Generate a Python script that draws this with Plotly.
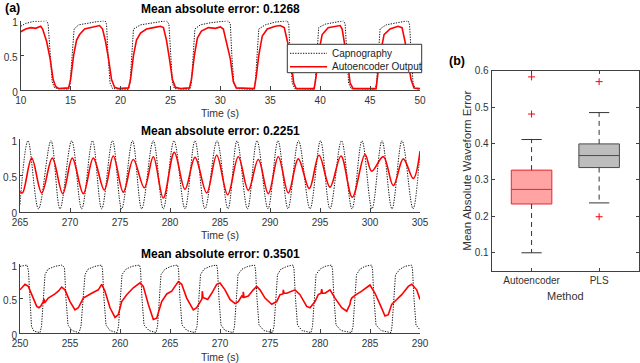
import plotly.graph_objects as go

# ---- (a) waveform panels: (time s, normalised value) ----
top_capno = [
    (10, 0.92), (10.5, 0.96), (11.3, 0.99), (12.6, 1.0), (12.75, 0.95), (12.95, 0.5), (13.15, 0.12), (13.4, 0.03),
    (14.8, 0.01), (14.95, 0.1), (15.15, 0.5), (15.35, 0.88), (15.8, 0.94), (16.8, 0.97), (17.8, 0.99), (18.45, 1.0),
    (18.6, 0.95), (18.75, 0.5), (18.95, 0.1), (19.2, 0.02), (20.8, 0.01), (20.95, 0.1), (21.1, 0.5), (21.3, 0.88),
    (22.0, 0.94), (23.3, 0.97), (24.6, 1.0), (24.85, 0.95), (25.0, 0.5), (25.2, 0.1), (25.4, 0.02), (26.95, 0.01),
    (27.1, 0.1), (27.25, 0.5), (27.45, 0.88), (28.0, 0.94), (29.0, 0.97), (30.8, 1.0), (31.0, 0.95), (31.15, 0.5),
    (31.35, 0.1), (31.6, 0.02), (33.35, 0.01), (33.5, 0.1), (33.65, 0.5), (33.85, 0.88), (34.5, 0.94), (35.5, 0.98),
    (36.7, 1.0), (36.85, 0.95), (37.0, 0.5), (37.2, 0.1), (37.45, 0.02), (39.35, 0.01), (39.5, 0.1), (39.65, 0.5),
    (39.85, 0.9), (40.5, 0.95), (41.5, 0.98), (42.35, 1.0), (42.5, 0.95), (42.65, 0.5), (42.85, 0.1), (43.1, 0.02),
    (45.5, 0.01), (45.65, 0.1), (45.8, 0.5), (46.0, 0.88), (46.6, 0.94), (47.6, 0.97), (48.8, 1.0), (48.95, 0.95),
    (49.1, 0.5), (49.3, 0.1), (49.55, 0.02), (50, 0.01),
]
top_auto = [
    (10, 0.84), (10.5, 0.88), (11, 0.9), (11.5, 0.89), (12, 0.92), (12.2, 0.88), (12.6, 0.7), (12.95, 0.45),
    (13.25, 0.15), (13.5, 0.05), (13.8, 0.02), (14.8, 0.03), (15.0, 0.15), (15.3, 0.5), (15.6, 0.72), (15.9, 0.8),
    (16.4, 0.88), (17, 0.9), (17.5, 0.92), (17.9, 0.93), (18.2, 0.88), (18.5, 0.7), (18.8, 0.45), (19.1, 0.15),
    (19.4, 0.04), (19.8, 0.02), (20.8, 0.03), (21.0, 0.15), (21.3, 0.5), (21.6, 0.72), (22, 0.82), (22.6, 0.88),
    (23.3, 0.9), (24, 0.92), (24.3, 0.9), (24.6, 0.72), (24.9, 0.45), (25.2, 0.15), (25.5, 0.04), (26, 0.02),
    (26.9, 0.03), (27.1, 0.15), (27.4, 0.5), (27.7, 0.75), (28.1, 0.85), (28.8, 0.9), (29.5, 0.89), (30, 0.91),
    (30.3, 0.88), (30.6, 0.7), (31.0, 0.45), (31.3, 0.12), (31.6, 0.03), (33.4, 0.02), (33.6, 0.2), (33.85, 0.5),
    (34.2, 0.78), (34.7, 0.88), (35.5, 0.92), (36, 0.93), (36.4, 0.9), (36.8, 0.65), (37.1, 0.4), (37.35, 0.1),
    (37.6, 0.02), (39.4, 0.02), (39.6, 0.2), (39.8, 0.5), (40.2, 0.8), (40.8, 0.9), (41.5, 0.92), (42, 0.93),
    (42.2, 0.88), (42.5, 0.65), (42.75, 0.4), (43, 0.1), (43.3, 0.02), (45.6, 0.02), (45.75, 0.2), (46, 0.5),
    (46.4, 0.8), (47, 0.88), (47.8, 0.92), (48.2, 0.9), (48.5, 0.7), (48.8, 0.45), (49.1, 0.15), (49.4, 0.03),
    (50, 0.02),
]

# middle panel: peaks / troughs (drawn with spline smoothing)
mid_capno = [
    (265.0, 0.1), (265.8, 0.98), (266.85, 0.04), (268.1, 0.98), (269.0, 0.04), (270.17, 0.98), (271.17, 0.04),
    (272.25, 0.98), (273.17, 0.04), (274.25, 0.98), (275.17, 0.04), (276.25, 0.98), (277.17, 0.04), (278.33, 0.98),
    (279.33, 0.04), (280.4, 0.98), (281.5, 0.04), (282.5, 0.98), (283.5, 0.04), (284.7, 0.98), (285.8, 0.04),
    (286.7, 0.98), (287.75, 0.04), (288.7, 0.98), (289.8, 0.04), (290.8, 0.98), (291.8, 0.04), (292.85, 0.98),
    (294.0, 0.04), (295.05, 0.98), (296.0, 0.04), (297.15, 0.98), (298.2, 0.04), (299.2, 0.98), (300.2, 0.04),
    (301.2, 0.98), (302.2, 0.04), (303.2, 0.98), (304.3, 0.04), (305.0, 0.85),
]
mid_auto = [
    (265.0, 0.28), (265.25, 0.26), (266.17, 0.74), (267.17, 0.26), (268.23, 0.74), (269.27, 0.25), (270.23, 0.74),
    (271.33, 0.25), (272.33, 0.74), (273.43, 0.30), (274.33, 0.77), (275.33, 0.27), (276.33, 0.72), (277.43, 0.33),
    (278.33, 0.76), (279.33, 0.19), (280.43, 0.82), (281.5, 0.31), (282.5, 0.75), (283.67, 0.26), (284.67, 0.78),
    (285.77, 0.235), (286.83, 0.76), (287.83, 0.295), (288.83, 0.72), (289.83, 0.25), (290.83, 0.76), (291.83, 0.26),
    (292.83, 0.73), (293.93, 0.32), (294.9, 0.78), (296.0, 0.34), (297.1, 0.77), (298.23, 0.20), (299.5, 0.79),
    (300.17, 0.56), (301.33, 0.76), (302.33, 0.36), (303.33, 0.73), (304.33, 0.46), (305.0, 0.83),
]

bot_capno = [
    (250.0, 0.97), (250.7, 0.99), (250.85, 0.9), (251.0, 0.4), (251.15, 0.1), (251.4, 0.03), (252.0, 0.01),
    (252.15, 0.1), (252.3, 0.5), (252.5, 0.85), (252.8, 0.93), (253.5, 0.97), (254.2, 0.99), (254.45, 0.95),
    (254.6, 0.5), (254.8, 0.12), (255.2, 0.04), (255.9, 0.01),
    (256.1, 0.1), (256.3, 0.5), (256.5, 0.85), (256.8, 0.93), (257.5, 0.97), (258.15, 0.99), (258.25, 0.93),
    (258.4, 0.5), (258.6, 0.12), (259.0, 0.04), (259.7, 0.01),
    (259.85, 0.1), (260.0, 0.5), (260.2, 0.85), (260.6, 0.93), (261.2, 0.97), (261.95, 0.99), (262.05, 0.93),
    (262.2, 0.5), (262.4, 0.12), (262.9, 0.04), (263.6, 0.01),
    (263.75, 0.1), (263.9, 0.5), (264.1, 0.85), (264.5, 0.93), (265.1, 0.97), (265.75, 0.99), (265.85, 0.93),
    (266.0, 0.5), (266.2, 0.12), (266.7, 0.04), (267.5, 0.01),
    (267.7, 0.1), (267.85, 0.5), (268.05, 0.85), (268.4, 0.93), (269.0, 0.97), (269.65, 0.99), (269.75, 0.93),
    (269.9, 0.5), (270.1, 0.12), (270.5, 0.04), (271.3, 0.01),
    (271.45, 0.1), (271.6, 0.5), (271.8, 0.85), (272.2, 0.93), (272.8, 0.97), (273.45, 0.99), (273.55, 0.93),
    (273.7, 0.5), (273.9, 0.12), (274.4, 0.04), (275.25, 0.01),
    (275.4, 0.1), (275.55, 0.5), (275.75, 0.85), (276.1, 0.93), (276.7, 0.97), (277.3, 0.99), (277.4, 0.93),
    (277.55, 0.5), (277.75, 0.12), (278.2, 0.04), (279.1, 0.01),
    (279.25, 0.1), (279.4, 0.5), (279.6, 0.85), (280.0, 0.93), (280.5, 0.97), (281.15, 0.99), (281.25, 0.93),
    (281.4, 0.5), (281.6, 0.12), (282.1, 0.04), (283.15, 0.01),
    (283.3, 0.1), (283.45, 0.5), (283.65, 0.85), (284.0, 0.93), (284.5, 0.97), (285.15, 0.99), (285.25, 0.93),
    (285.4, 0.5), (285.6, 0.12), (286.1, 0.04), (287.1, 0.01),
    (287.2, 0.1), (287.35, 0.5), (287.55, 0.85), (288.0, 0.93), (288.5, 0.97), (289.15, 0.99), (289.25, 0.93),
    (289.4, 0.5), (289.6, 0.12), (290.0, 0.05),
]
bot_auto = [
    (250.0, 0.63), (250.5, 0.71), (250.83, 0.68), (251.33, 0.51), (251.67, 0.39), (251.9, 0.37), (252.1, 0.40),
    (252.33, 0.46), (252.4, 0.50), (252.45, 0.44), (252.83, 0.51), (253.5, 0.57), (253.83, 0.61), (254.17, 0.67),
    (254.5, 0.63), (255.0, 0.46), (255.5, 0.34), (255.83, 0.37), (256.33, 0.51), (257.17, 0.58), (257.83, 0.63),
    (258.17, 0.71), (258.5, 0.61), (259.0, 0.37), (259.5, 0.23), (259.83, 0.27), (260.17, 0.46), (260.67, 0.56),
    (261.33, 0.66), (262.0, 0.73), (262.33, 0.68), (262.83, 0.42), (263.33, 0.20), (263.67, 0.22), (264.17, 0.46),
    (264.67, 0.57), (265.17, 0.61), (265.83, 0.75), (266.17, 0.71), (266.67, 0.51), (267.33, 0.34), (267.67, 0.37),
    (268.0, 0.46), (268.2, 0.50), (268.23, 0.61), (268.3, 0.52), (268.43, 0.51), (268.77, 0.49), (269.17, 0.58),
    (269.67, 0.71), (270.0, 0.73), (270.5, 0.63), (271.0, 0.49), (271.5, 0.43), (271.83, 0.46), (272.17, 0.54),
    (272.3, 0.52), (272.33, 0.60), (272.4, 0.52), (272.83, 0.54), (273.33, 0.63), (273.67, 0.68), (274.0, 0.63),
    (274.5, 0.51), (275.17, 0.42), (275.67, 0.46), (276.0, 0.56), (276.3, 0.57), (276.33, 0.63), (276.4, 0.58),
    (276.67, 0.58), (277.17, 0.61), (277.5, 0.63), (278.0, 0.56), (278.67, 0.39), (279.0, 0.37), (279.5, 0.46),
    (279.83, 0.56), (280.1, 0.58), (280.17, 0.64), (280.25, 0.58), (280.5, 0.58), (281.0, 0.63), (281.5, 0.51),
    (282.17, 0.37), (282.67, 0.32), (283.0, 0.42), (283.05, 0.47), (283.17, 0.51), (283.5, 0.55), (284.17, 0.61),
    (285.0, 0.70), (285.5, 0.58), (286.0, 0.42), (286.5, 0.25), (286.83, 0.27), (287.17, 0.42), (287.67, 0.49),
    (288.17, 0.56), (288.83, 0.68), (289.17, 0.71), (289.67, 0.63), (290.0, 0.49),
]

panel_titles = ["Mean absolute error: 0.1268", "Mean absolute error: 0.2251", "Mean absolute error: 0.3501"]
panel_ranges = [[10, 50], [265, 305], [250, 290]]
panel_ticks = [
    [10, 15, 20, 25, 30, 35, 40, 45, 50],
    [265, 270, 275, 280, 285, 290, 295, 300, 305],
    [250, 255, 260, 265, 270, 275, 280, 285, 290],
]
legend_labels = ["Capnography", "Autoencoder Output"]

# ---- (b) boxplot summary ----
methods = ["Autoencoder", "PLS"]
box_q1 = [0.234, 0.334]
box_med = [0.274, 0.367]
box_q3 = [0.327, 0.399]
whisk_lo = [0.100, 0.237]
whisk_hi = [0.411, 0.485]
outliers = [[0.583, 0.481], [0.570, 0.199]]

FONT = "Liberation Sans, Arial, sans-serif"
TXT = "#333333"
AX = "#404040"
W, H = 640, 363
CAPNO_LINE = dict(color="#111111", width=1, dash="1.3px,1.3px")
AUTO_LINE = dict(color="#ff0000", width=1.6)


def px_x(p):
    return p / W


def px_y(p):
    return (H - p) / H


def label(text, x, y, size=10.5, color=TXT, **kw):
    return dict(text=text, x=px_x(x), y=px_y(y), xref="paper", yref="paper", showarrow=False,
                xanchor=kw.pop("xanchor", "center"), yanchor="middle",
                font=dict(family=FONT, size=size, color=color), **kw)


fig = go.Figure()

series = [(top_capno, top_auto, "linear"), (mid_capno, mid_auto, "spline"), (bot_capno, bot_auto, "linear")]
for i, (capno, auto, shape) in enumerate(series):
    ax = "" if i == 0 else str(i + 1)
    fig.add_trace(go.Scatter(
        x=[p[0] for p in capno], y=[p[1] for p in capno], mode="lines",
        line=dict(CAPNO_LINE, shape=shape), name=legend_labels[0], showlegend=False,
        xaxis="x" + ax, yaxis="y" + ax,
    ))
    fig.add_trace(go.Scatter(
        x=[p[0] for p in auto], y=[p[1] for p in auto], mode="lines",
        line=dict(AUTO_LINE, shape=shape), name=legend_labels[1], showlegend=False,
        xaxis="x" + ax, yaxis="y" + ax,
    ))

# boxes
fills = ["#ffa3a3", "#bdbdbd"]
edges = ["#e8262e", "#4a4a4a"]
for k, m in enumerate(methods):
    pos = k + 1
    fig.add_trace(go.Box(
        x=[pos], q1=[box_q1[k]], median=[box_med[k]], q3=[box_q3[k]],
        lowerfence=[box_q1[k]], upperfence=[box_q3[k]], width=0.6, whiskerwidth=0,
        fillcolor=fills[k], line=dict(color=edges[k], width=1), boxpoints=False,
        showlegend=False, xaxis="x4", yaxis="y4", name=m,
    ))
    fig.add_trace(go.Scatter(
        x=[pos, pos, None, pos, pos], y=[box_q3[k], whisk_hi[k], None, box_q1[k], whisk_lo[k]],
        mode="lines", line=dict(color="#333333", width=1, dash="5px,4px"),
        showlegend=False, xaxis="x4", yaxis="y4", hoverinfo="skip",
    ))
    fig.add_trace(go.Scatter(
        x=[pos - 0.15, pos + 0.15, None, pos - 0.15, pos + 0.15],
        y=[whisk_hi[k], whisk_hi[k], None, whisk_lo[k], whisk_lo[k]],
        mode="lines", line=dict(color="#333333", width=1),
        showlegend=False, xaxis="x4", yaxis="y4", hoverinfo="skip",
    ))
    fig.add_trace(go.Scatter(
        x=[pos] * len(outliers[k]), y=outliers[k], mode="markers",
        marker=dict(symbol="cross-thin", size=5, line=dict(color="#ff0000", width=1)),
        showlegend=False, xaxis="x4", yaxis="y4",
    ))

axis_common = dict(
    showline=True, linecolor=AX, linewidth=1, ticks="inside", tickcolor=AX, automargin=False,
    showgrid=False, zeroline=False, tickfont=dict(family=FONT, size=10, color=TXT),
)

# pixel boxes of the three waveform panels: (left, right, bottom, top)
panel_px = [(20.7, 420, 90, 20.7), (20, 420, 211.7, 139.3), (20, 420, 333.3, 264.3)]
layout = dict(
    width=W, height=H, margin=dict(l=0, r=0, t=0, b=0, pad=0, autoexpand=False),
    paper_bgcolor="white", plot_bgcolor="white", showlegend=False,
    font=dict(family=FONT, size=10.5, color=TXT),
)
annotations = []
for i in range(3):
    l, r, b, t = panel_px[i]
    ax = "" if i == 0 else str(i + 1)
    layout["xaxis" + ax] = dict(
        axis_common, domain=[px_x(l), px_x(r)], range=panel_ranges[i], tickvals=panel_ticks[i],
        ticklen=4, anchor="y" + ax, ticklabelstandoff=1,
    )
    layout["yaxis" + ax] = dict(
        axis_common, domain=[px_y(b), px_y(t)], range=[0, 1], tickvals=[0, 0.5, 1],
        ticklen=3, anchor="x" + ax, ticklabelshift=2,
    )
    annotations.append(label("<b>" + panel_titles[i] + "</b>", (l + r) / 2, [9.3, 130.7, 254][i],
                             size=12, color="black"))
    annotations.append(label("Time (s)", (l + r) / 2, [113, 235, 356.5][i]))

layout["xaxis4"] = dict(
    axis_common, domain=[px_x(491.7), px_x(639)], range=[0.41, 2.59], tickvals=[1, 2],
    ticktext=methods, ticklen=3, mirror="ticks", anchor="y4",
)
layout["yaxis4"] = dict(
    axis_common, domain=[px_y(271), px_y(70.7)], range=[0.05, 0.6],
    tickvals=[0.1, 0.2, 0.3, 0.4, 0.5, 0.6], ticklen=3, mirror="ticks", anchor="x4",
)
annotations += [
    label("Mean Absolute Waveform Error", 466.7, 171, size=11.5, textangle=-90),
    label("Method", 565, 296, size=11),
    label("<b>(a)</b>", 12, 7.5, size=12.5, color="black"),
    label("<b>(b)</b>", 456.7, 61, size=12.5, color="black"),
    # legend entries (MATLAB-style boxed legend in the top panel)
    label(legend_labels[0], 330, 53.3, size=10, color="#222222", xanchor="left"),
    label(legend_labels[1], 330, 66.7, size=10, color="#222222", xanchor="left"),
]
shapes = [
    dict(type="rect", xref="paper", yref="paper", x0=px_x(287.3), x1=px_x(421.7), y0=px_y(72.7), y1=px_y(44.3),
         fillcolor="white", line=dict(color="#333333", width=1), layer="above"),
    dict(type="line", xref="paper", yref="paper", x0=px_x(290), x1=px_x(327), y0=px_y(53.3), y1=px_y(53.3),
         line=CAPNO_LINE, layer="above"),
    dict(type="line", xref="paper", yref="paper", x0=px_x(290), x1=px_x(327), y0=px_y(66.7), y1=px_y(66.7),
         line=AUTO_LINE, layer="above"),
]
layout["annotations"] = annotations
layout["shapes"] = shapes
fig.update_layout(layout)

# the page's default body margin would shift the 640x363 figure off the window
fig.write_html("out.html", config={"displayModeBar": False},
               post_script="document.body.style.margin = '0';")
